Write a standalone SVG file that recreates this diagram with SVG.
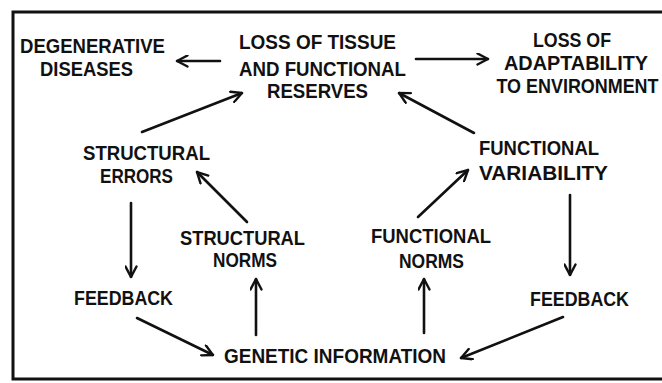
<svg xmlns="http://www.w3.org/2000/svg" width="662" height="383" viewBox="0 0 662 383">
<style>
text{font-family:"Liberation Sans","DejaVu Sans",sans-serif;font-size:20px;font-weight:bold;fill:#111;text-anchor:middle}
.c{stroke:#111;stroke-width:2.6;fill:none;stroke-linecap:round}
</style>
<defs>
<marker id="ah" viewBox="0 0 13 13" refX="12" refY="6.5" markerWidth="13" markerHeight="13" markerUnits="userSpaceOnUse" orient="auto">
<path d="M1.5,1 L12,6.5 L1.5,12" fill="none" stroke="#111" stroke-width="2.4" stroke-linecap="round" stroke-linejoin="miter"/>
</marker>
</defs>
<rect x="0" y="0" width="662" height="383" fill="#fff"/>
<rect x="13" y="12" width="690" height="367" fill="none" stroke="#111" stroke-width="3"/>
<g id="degenerative">
<text x="92.5" y="53" textLength="145" lengthAdjust="spacingAndGlyphs">DEGENERATIVE</text>
<text x="86.5" y="76" textLength="93" lengthAdjust="spacingAndGlyphs">DISEASES</text>
</g>
<g id="loss-tissue">
<text x="317.5" y="49" textLength="157" lengthAdjust="spacingAndGlyphs">LOSS OF TISSUE</text>
<text x="322.5" y="76" textLength="167" lengthAdjust="spacingAndGlyphs">AND FUNCTIONAL</text>
<text x="317.5" y="98" textLength="101" lengthAdjust="spacingAndGlyphs">RESERVES</text>
</g>
<g id="loss-adaptability">
<text x="572" y="47" textLength="78" lengthAdjust="spacingAndGlyphs">LOSS OF</text>
<text x="576" y="70" textLength="144" lengthAdjust="spacingAndGlyphs">ADAPTABILITY</text>
<text x="577.5" y="93" textLength="162" lengthAdjust="spacingAndGlyphs">TO ENVIRONMENT</text>
</g>
<g id="structural-errors">
<text x="146.5" y="160" textLength="127" lengthAdjust="spacingAndGlyphs">STRUCTURAL</text>
<text x="136.5" y="183" textLength="73" lengthAdjust="spacingAndGlyphs">ERRORS</text>
</g>
<g id="functional-variability">
<text x="539" y="155" textLength="120" lengthAdjust="spacingAndGlyphs">FUNCTIONAL</text>
<text x="543.5" y="180" textLength="129" lengthAdjust="spacingAndGlyphs">VARIABILITY</text>
</g>
<g id="structural-norms">
<text x="242.5" y="245" textLength="125" lengthAdjust="spacingAndGlyphs">STRUCTURAL</text>
<text x="245" y="267" textLength="64" lengthAdjust="spacingAndGlyphs">NORMS</text>
</g>
<g id="functional-norms">
<text x="431" y="243" textLength="120" lengthAdjust="spacingAndGlyphs">FUNCTIONAL</text>
<text x="431.5" y="268" textLength="65" lengthAdjust="spacingAndGlyphs">NORMS</text>
</g>
<g id="feedback-left">
<text x="123.5" y="305" textLength="99" lengthAdjust="spacingAndGlyphs">FEEDBACK</text>
</g>
<g id="feedback-right">
<text x="579.5" y="306" textLength="99" lengthAdjust="spacingAndGlyphs">FEEDBACK</text>
</g>
<g id="genetic-information">
<text x="335" y="363" textLength="222" lengthAdjust="spacingAndGlyphs">GENETIC INFORMATION</text>
</g>
<g id="connectors">
<line class="c" x1="220" y1="61" x2="177" y2="61" marker-end="url(#ah)"/>
<line class="c" x1="416" y1="59" x2="488" y2="59" marker-end="url(#ah)"/>
<line class="c" x1="142" y1="132" x2="242" y2="93" marker-end="url(#ah)"/>
<line class="c" x1="474" y1="133" x2="399" y2="93" marker-end="url(#ah)"/>
<line class="c" x1="247" y1="222" x2="197" y2="172" marker-end="url(#ah)"/>
<line class="c" x1="418" y1="217" x2="468" y2="170" marker-end="url(#ah)"/>
<line class="c" x1="131" y1="203" x2="131" y2="277" marker-end="url(#ah)"/>
<line class="c" x1="570" y1="195" x2="570" y2="275" marker-end="url(#ah)"/>
<line class="c" x1="256" y1="335" x2="256" y2="279" marker-end="url(#ah)"/>
<line class="c" x1="424" y1="333" x2="424" y2="279" marker-end="url(#ah)"/>
<line class="c" x1="137" y1="318" x2="213" y2="355" marker-end="url(#ah)"/>
<line class="c" x1="563" y1="317" x2="461" y2="358" marker-end="url(#ah)"/>
</g>
</svg>
